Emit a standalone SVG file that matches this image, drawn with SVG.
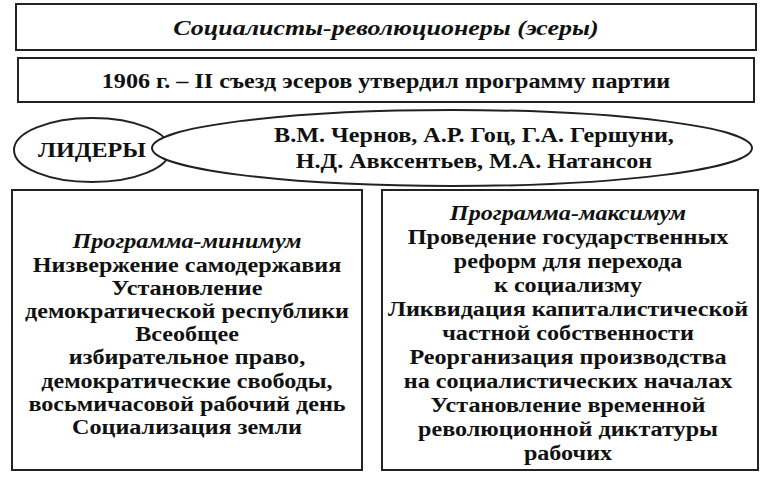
<svg xmlns="http://www.w3.org/2000/svg" width="770" height="480" viewBox="0 0 770 480">
<style>
.b{fill:#fff;stroke:#222;stroke-width:2}
text{font-family:"Liberation Serif",serif;font-weight:bold;font-size:21px;fill:#111;text-anchor:middle}
.i{font-style:italic}
</style>
<rect width="770" height="480" fill="#fff"/>
<g id="title"><rect class="b" x="16" y="4" width="740" height="46"/><g transform="translate(386,0) scale(1.18,1)"><text class="i" x="0" y="35" style="font-size:22px">Социалисты-революционеры (эсеры)</text></g></g>
<g id="congress"><rect class="b" x="18" y="58" width="736" height="44"/><g transform="translate(386,0) scale(1.15,1)"><text x="0" y="88">1906 г. – II съезд эсеров утвердил программу партии</text></g></g>
<g id="leaders-label"><ellipse class="b" cx="92" cy="150" rx="78" ry="32"/><g transform="translate(92,0) scale(1.15,1)"><text x="0" y="157">ЛИДЕРЫ</text></g></g>
<g id="leaders"><ellipse class="b" cx="452" cy="148" rx="300" ry="38"/><g transform="translate(474,0) scale(1.15,1)"><text x="0" y="142">В.М. Чернов, А.Р. Гоц, Г.А. Гершуни,</text><text x="0" y="168">Н.Д. Авксентьев, М.А. Натансон</text></g></g>
<g id="min"><rect class="b" x="12" y="190" width="350" height="280"/>
<g transform="translate(187,0) scale(1.15,1)">
<text class="i" x="0" y="248">Программа-минимум</text>
<text x="0" y="272">Низвержение самодержавия</text>
<text x="0" y="295">Установление</text>
<text x="0" y="318">демократической республики</text>
<text x="0" y="341">Всеобщее</text>
<text x="0" y="364">избирательное право,</text>
<text x="0" y="388">демократические свободы,</text>
<text x="0" y="411">восьмичасовой рабочий день</text>
<text x="0" y="434">Социализация земли</text></g></g>
<g id="max"><rect class="b" x="382" y="190" width="376" height="280"/>
<g transform="translate(568,0) scale(1.15,1)">
<text class="i" x="0" y="220">Программа-максимум</text>
<text x="0" y="244">Проведение государственных</text>
<text x="0" y="268">реформ для перехода</text>
<text x="0" y="292">к социализму</text>
<text x="0" y="316">Ликвидация капиталистической</text>
<text x="0" y="340">частной собственности</text>
<text x="0" y="364">Реорганизация производства</text>
<text x="0" y="388">на социалистических началах</text>
<text x="0" y="412">Установление временной</text>
<text x="0" y="436">революционной диктатуры</text>
<text x="0" y="460">рабочих</text></g></g>
<g id="connectors"></g>
</svg>
